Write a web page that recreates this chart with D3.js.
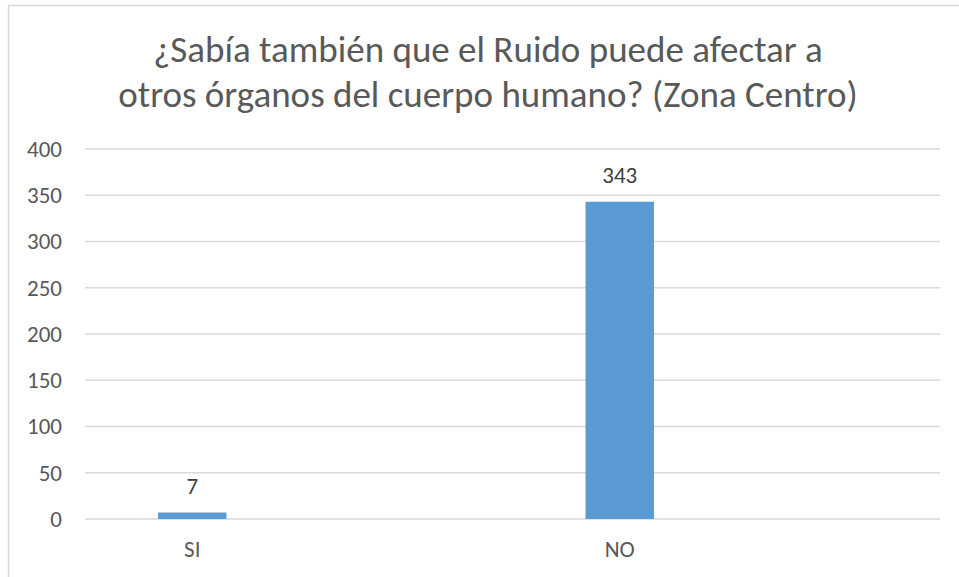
<!DOCTYPE html>
<html>
<head>
<meta charset="utf-8">
<script src="https://cdnjs.cloudflare.com/ajax/libs/d3/7.8.5/d3.min.js"></script>
<style>
  body { margin: 0; background: #fff; overflow: hidden; }
  svg { display: block; font-family: Carlito, "Open Sans", "Noto Sans", sans-serif; }
</style>
</head>
<body>
<svg id="chart"></svg>
<script>
// donnees du graphique
var categorias = ["SI", "NO"];
var valores = [7, 343];
var ticksY = [0, 50, 100, 150, 200, 250, 300, 350, 400];
var titulo = ["¿Sabía también que el Ruido puede afectar a",
              "otros órganos del cuerpo humano? (Zona Centro)"];

var svgWidth = 959, svgHeight = 577;
var svg = d3.select("#chart")
  .attr("width", svgWidth)
  .attr("height", svgHeight);

// cadre du graphique (seuls les bords gauche et haut sont visibles)
svg.append("line")
  .attr("x1", 8.5).attr("x2", 8.5).attr("y1", 5).attr("y2", svgHeight)
  .attr("stroke", "#d9d9d9").attr("stroke-width", 1.5);
svg.append("line")
  .attr("x1", 8).attr("x2", svgWidth).attr("y1", 5.5).attr("y2", 5.5)
  .attr("stroke", "#d9d9d9").attr("stroke-width", 1.5);

// titre
var largeurs = [670, 739];
titulo.forEach(function (t, i) {
  var txt = svg.append("text")
    .attr("x", 488)
    .attr("y", 62 + 45 * i)
    .attr("text-anchor", "middle")
    .attr("fill", "#595959")
    .style("font-size", "37px")
    .text(t);
  var w = txt.node().getComputedTextLength();
  if (w > largeurs[i] * 1.03) {
    txt.attr("textLength", largeurs[i]).attr("lengthAdjust", "spacingAndGlyphs");
  }
});

var y = d3.scaleLinear().domain([0, 400]).range([519, 149]);
var x = d3.scaleBand()
  .domain(categorias)
  .range([-21.5, 833.5])
  .paddingInner(0.84)
  .paddingOuter(0.42);

// lignes de grille
svg.append("g")
  .selectAll("line")
  .data(ticksY)
  .enter().append("line")
  .attr("x1", 85).attr("x2", 940)
  .attr("y1", function (d) { return y(d); })
  .attr("y2", function (d) { return y(d); })
  .attr("stroke", "#d9d9d9")
  .attr("stroke-width", 1.5);

// axe Y
var axeY = svg.append("g")
  .attr("transform", "translate(62,0)")
  .call(d3.axisLeft(y).tickValues(ticksY).tickSize(0).tickPadding(0));
axeY.select(".domain").remove();
axeY.selectAll("text")
  .attr("fill", "#595959")
  .style("font-size", "23px")
  .style("font-family", "Carlito, 'Open Sans', sans-serif");

// barres
svg.append("g")
  .selectAll("rect")
  .data(valores)
  .enter().append("rect")
  .attr("x", function (d, i) { return x(categorias[i]); })
  .attr("width", x.bandwidth())
  .attr("y", function (d) { return y(d); })
  .attr("height", function (d) { return y(0) - y(d); })
  .attr("fill", "#5b9bd5");

// etiquettes de donnees
svg.append("g")
  .selectAll("text")
  .data(valores)
  .enter().append("text")
  .attr("x", function (d, i) { return x(categorias[i]) + x.bandwidth() / 2; })
  .attr("y", function (d) { return y(d) - 18.5; })
  .attr("text-anchor", "middle")
  .attr("fill", "#404040")
  .style("font-size", "23px")
  .text(function (d) { return d; });

// axe X
var axeX = svg.append("g")
  .attr("transform", "translate(0," + y(0) + ")")
  .call(d3.axisBottom(x).tickSize(0).tickPadding(22));
axeX.select(".domain").remove();
axeX.selectAll("text")
  .attr("fill", "#595959")
  .style("font-size", "23px")
  .style("font-family", "Carlito, 'Open Sans', sans-serif");
</script>
</body>
</html>
